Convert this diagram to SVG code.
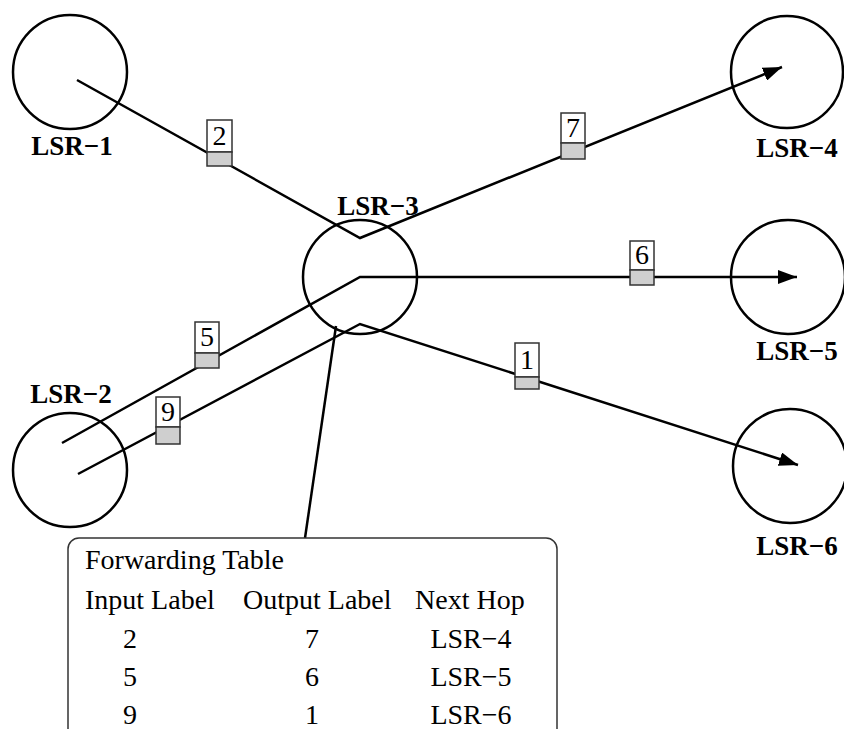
<svg xmlns="http://www.w3.org/2000/svg" width="844" height="729" viewBox="0 0 844 729">
  <style>
    .router { fill: none; stroke: #000; stroke-width: 2.5; }
    .name { font-family: "Liberation Serif", "Times New Roman", serif; font-weight: bold; font-size: 27px; fill: #000; text-anchor: middle; }
    .path { fill: none; stroke: #000; stroke-width: 2.5; stroke-linejoin: miter; }
    .lbl-top { fill: #fff; stroke: #333; stroke-width: 1.5; }
    .lbl-bot { fill: #cfcfcf; stroke: #333; stroke-width: 1.5; }
    .lbl-num { font-family: "Liberation Serif", "Times New Roman", serif; font-size: 28px; fill: #000; text-anchor: middle; }
    .tbl { fill: #fff; stroke: #333; stroke-width: 1.5; }
    .tt { font-family: "Liberation Serif", "Times New Roman", serif; font-size: 28px; fill: #000; }
    .tc { text-anchor: middle; }
  </style>
  <defs>
    <marker id="arrow" markerUnits="userSpaceOnUse" markerWidth="20" markerHeight="14" refX="19" refY="7" orient="auto">
      <path d="M0,0 L19,7 L0,14 Z" fill="#000"/>
    </marker>
  </defs>

  <rect width="844" height="729" fill="#fff"/>

  <!-- routers -->
  <g id="lsr-1">
    <circle class="router" cx="70" cy="72" r="57"/>
    <text class="name" x="72" y="155">LSR−1</text>
  </g>
  <g id="lsr-2">
    <circle class="router" cx="70" cy="470" r="57"/>
    <text class="name" x="71" y="403">LSR−2</text>
  </g>
  <g id="lsr-3">
    <circle class="router" cx="360" cy="277" r="57"/>
    <text class="name" x="378" y="215">LSR−3</text>
  </g>
  <g id="lsr-4">
    <circle class="router" cx="787" cy="72" r="56"/>
    <text class="name" x="797" y="157">LSR−4</text>
  </g>
  <g id="lsr-5">
    <circle class="router" cx="788" cy="277" r="57"/>
    <text class="name" x="797" y="360">LSR−5</text>
  </g>
  <g id="lsr-6">
    <circle class="router" cx="790" cy="466" r="57"/>
    <text class="name" x="797" y="555">LSR−6</text>
  </g>

  <!-- label switched paths and table pointer -->
  <g id="connectors">
    <polyline class="path" points="77,80 360,238 782,67" marker-end="url(#arrow)"/>
    <polyline class="path" points="62,443 360,277 797,277" marker-end="url(#arrow)"/>
    <polyline class="path" points="78,474 360,324 798,465" marker-end="url(#arrow)"/>
    <line class="path" x1="305" y1="538" x2="336" y2="326"/>
  </g>

  <!-- labels carried on each hop -->
  <g id="label-2">
    <rect class="lbl-top" x="207" y="120" width="25" height="32"/>
    <rect class="lbl-bot" x="207" y="152" width="25" height="14"/>
    <text class="lbl-num" x="219.5" y="145">2</text>
  </g>
  <g id="label-7">
    <rect class="lbl-top" x="561" y="113" width="24" height="30"/>
    <rect class="lbl-bot" x="561" y="143" width="24" height="16"/>
    <text class="lbl-num" x="573" y="137">7</text>
  </g>
  <g id="label-6">
    <rect class="lbl-top" x="630" y="241" width="24" height="29"/>
    <rect class="lbl-bot" x="630" y="270" width="24" height="15"/>
    <text class="lbl-num" x="642" y="264">6</text>
  </g>
  <g id="label-5">
    <rect class="lbl-top" x="195" y="322" width="24" height="31"/>
    <rect class="lbl-bot" x="195" y="353" width="24" height="15"/>
    <text class="lbl-num" x="207" y="346">5</text>
  </g>
  <g id="label-9">
    <rect class="lbl-top" x="156" y="397" width="24" height="30"/>
    <rect class="lbl-bot" x="156" y="427" width="24" height="17"/>
    <text class="lbl-num" x="168" y="421">9</text>
  </g>
  <g id="label-1">
    <rect class="lbl-top" x="515" y="343" width="24" height="34"/>
    <rect class="lbl-bot" x="515" y="377" width="24" height="12"/>
    <text class="lbl-num" x="527" y="369">1</text>
  </g>

  <!-- forwarding table of LSR-3 -->
  <g id="forwarding-table">
    <rect class="tbl" x="68" y="538" width="489" height="210" rx="11" ry="11"/>
    <text class="tt" x="85" y="569">Forwarding Table</text>
    <text class="tt" x="85" y="609">Input Label</text>
    <text class="tt" x="243" y="609">Output Label</text>
    <text class="tt" x="415" y="609">Next Hop</text>
    <text class="tt tc" x="130" y="648">2</text>
    <text class="tt tc" x="312" y="648">7</text>
    <text class="tt tc" x="471" y="648">LSR−4</text>
    <text class="tt tc" x="130" y="686">5</text>
    <text class="tt tc" x="312" y="686">6</text>
    <text class="tt tc" x="471" y="686">LSR−5</text>
    <text class="tt tc" x="130" y="724">9</text>
    <text class="tt tc" x="312" y="724">1</text>
    <text class="tt tc" x="471" y="724">LSR−6</text>
  </g>
</svg>
